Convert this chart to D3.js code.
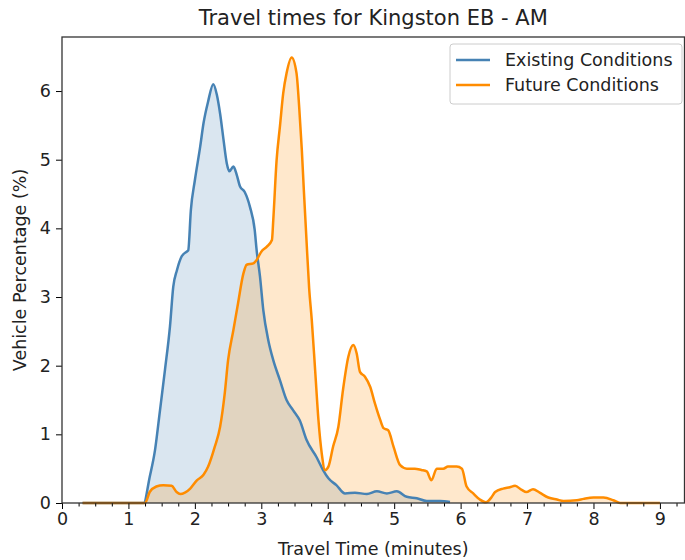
<!DOCTYPE html>
<html>
<head>
<meta charset="utf-8">
<script src="https://cdn.jsdelivr.net/npm/d3@7"></script>
<style>
  html, body { margin: 0; padding: 0; background: #fff; }
  svg { display: block; font-family: "DejaVu Sans", sans-serif; }
</style>
</head>
<body>
<svg id="chart" width="685" height="560"></svg>
<script>
// Travel time distributions (minutes vs. share of vehicles in %)
const existingTime = [0.31, 1.23, 1.32, 1.40, 1.475, 1.55, 1.625, 1.675, 1.73, 1.80, 1.875, 1.90, 1.94, 2.00, 2.08, 2.13, 2.20, 2.277, 2.33, 2.38, 2.43, 2.48, 2.52, 2.58, 2.63, 2.68, 2.75, 2.83, 2.90, 2.93, 2.98, 3.03, 3.105, 3.18, 3.28, 3.38, 3.48, 3.58, 3.68, 3.83, 3.93, 4.01, 4.13, 4.26, 4.41, 4.59, 4.74, 4.89, 5.04, 5.19, 5.34, 5.49, 5.69, 5.84];
const existingPct  = [0, 0, 0.38, 0.77, 1.35, 1.94, 2.57, 3.15, 3.39, 3.59, 3.66, 3.68, 4.27, 4.70, 5.19, 5.53, 5.85, 6.10, 5.95, 5.67, 5.30, 4.95, 4.83, 4.90, 4.78, 4.61, 4.53, 4.31, 3.98, 3.68, 3.30, 2.81, 2.37, 2.08, 1.79, 1.50, 1.35, 1.20, 0.92, 0.67, 0.48, 0.36, 0.26, 0.14, 0.15, 0.13, 0.17, 0.14, 0.17, 0.09, 0.07, 0.03, 0.03, 0.015];

const futureTime = [0.31, 1.25, 1.32, 1.42, 1.525, 1.65, 1.725, 1.78, 1.85, 1.93, 2.03, 2.13, 2.20, 2.30, 2.38, 2.45, 2.50, 2.58, 2.65, 2.73, 2.78, 2.88, 2.93, 3.00, 3.08, 3.16, 3.18, 3.23, 3.28, 3.33, 3.38, 3.457, 3.53, 3.57, 3.61, 3.64, 3.68, 3.72, 3.76, 3.81, 3.86, 3.91, 3.96, 4.01, 4.08, 4.16, 4.23, 4.31, 4.385, 4.435, 4.485, 4.56, 4.64, 4.71, 4.79, 4.84, 4.91, 4.99, 5.09, 5.19, 5.31, 5.41, 5.49, 5.56, 5.64, 5.74, 5.81, 5.94, 6.02, 6.09, 6.19, 6.29, 6.38, 6.47, 6.52, 6.64, 6.74, 6.82, 6.92, 6.99, 7.09, 7.19, 7.32, 7.45, 7.55, 7.75, 7.85, 8.00, 8.15, 8.30, 8.40, 9.00];
const futurePct  = [0, 0, 0.16, 0.24, 0.26, 0.25, 0.16, 0.13, 0.15, 0.21, 0.33, 0.41, 0.53, 0.82, 1.11, 1.60, 2.08, 2.52, 2.91, 3.34, 3.47, 3.49, 3.54, 3.66, 3.73, 3.83, 4.12, 4.99, 5.48, 5.97, 6.26, 6.49, 6.26, 5.77, 5.14, 4.56, 3.83, 3.13, 2.66, 1.94, 1.21, 0.72, 0.48, 0.53, 0.82, 1.11, 1.65, 2.13, 2.30, 2.18, 1.91, 1.84, 1.69, 1.45, 1.21, 1.09, 1.06, 0.82, 0.55, 0.50, 0.50, 0.48, 0.46, 0.33, 0.50, 0.50, 0.53, 0.53, 0.50, 0.24, 0.14, 0.05, 0.01, 0.09, 0.16, 0.21, 0.23, 0.25, 0.19, 0.16, 0.20, 0.15, 0.08, 0.05, 0.03, 0.04, 0.06, 0.08, 0.08, 0.04, 0, 0];

const seriesNames  = ["Existing Conditions", "Future Conditions"];
const seriesColors = ["#4682b4", "#ff8c00"];
const xTicks = [0, 1, 2, 3, 4, 5, 6, 7, 8, 9];
const yTicks = [0, 1, 2, 3, 4, 5, 6];

const titleText = "Travel times for Kingston EB - AM";
const xLabel = "Travel Time (minutes)";
const yLabel = "Vehicle Percentage (%)";

const svg = d3.select("#chart");
const plot = { left: 62, right: 684.5, top: 37, bottom: 503 };

const x = d3.scaleLinear().domain([0, 9.37]).range([plot.left, plot.right]);
const y = d3.scaleLinear().domain([0, 6.787]).range([plot.bottom, plot.top]);

const series = [
  { name: seriesNames[0], color: seriesColors[0], pts: existingTime.map((t, i) => [t, existingPct[i]]) },
  { name: seriesNames[1], color: seriesColors[1], pts: futureTime.map((t, i) => [t, futurePct[i]]) }
];

const curve = d3.curveMonotoneX;
const area = d3.area().x(d => x(d[0])).y0(y(0)).y1(d => y(d[1])).curve(curve);
const line = d3.line().x(d => x(d[0])).y(d => y(d[1])).curve(curve);

// Translucent fills first, outlines on top
const g = svg.append("g");
series.forEach(s => {
  g.append("path").attr("d", area(s.pts)).attr("fill", s.color).attr("fill-opacity", 0.2);
});
series.forEach(s => {
  g.append("path").attr("d", line(s.pts)).attr("fill", "none")
    .attr("stroke", s.color).attr("stroke-width", 2.5).attr("stroke-linejoin", "round");
});

// Axes
const xAxis = d3.axisBottom(x).tickValues(xTicks).tickSize(6).tickPadding(4).tickFormat(d3.format("d"));
const xMinor = d3.axisBottom(x).tickValues(d3.range(0.25, 9.3, 0.25).filter(v => Math.abs(v - Math.round(v)) > 1e-6))
  .tickSize(3.5).tickFormat("");
const yAxis = d3.axisLeft(y).tickValues(yTicks).tickSize(6).tickPadding(5).tickFormat(d3.format("d"));

const gx = svg.append("g").attr("transform", `translate(0,${plot.bottom})`).call(xAxis);
const gxm = svg.append("g").attr("transform", `translate(0,${plot.bottom})`).call(xMinor);
const gy = svg.append("g").attr("transform", `translate(${plot.left},0)`).call(yAxis);
[gx, gxm, gy].forEach(a => {
  a.select(".domain").remove();
  a.selectAll("line").attr("stroke", "#000").attr("stroke-width", 1);
  a.selectAll("text").attr("font-family", "DejaVu Sans").attr("font-size", 17.5).attr("fill", "#222");
});

// Frame
svg.append("rect")
  .attr("x", plot.left).attr("y", plot.top)
  .attr("width", plot.right - plot.left).attr("height", plot.bottom - plot.top)
  .attr("fill", "none").attr("stroke", "#333").attr("stroke-width", 1.3);

// Titles
svg.append("text").attr("x", (plot.left + plot.right) / 2).attr("y", 25)
  .attr("text-anchor", "middle").attr("font-size", 21).attr("fill", "#222").text(titleText);
svg.append("text").attr("x", (plot.left + plot.right) / 2).attr("y", 555)
  .attr("text-anchor", "middle").attr("font-size", 17.5).attr("fill", "#222").text(xLabel);
svg.append("text").attr("transform", `translate(26,${(plot.top + plot.bottom) / 2}) rotate(-90)`)
  .attr("text-anchor", "middle").attr("font-size", 17.5).attr("fill", "#222").text(yLabel);

// Legend
const lg = svg.append("g").attr("transform", "translate(450,44)");
lg.append("rect").attr("x", 0).attr("y", 0).attr("width", 232).attr("height", 60)
  .attr("rx", 3).attr("fill", "#fff").attr("fill-opacity", 0.8).attr("stroke", "#ccc");
series.forEach((s, i) => {
  const yy = 16 + i * 25;
  lg.append("line").attr("x1", 6).attr("x2", 40).attr("y1", yy).attr("y2", yy)
    .attr("stroke", s.color).attr("stroke-width", 2.5);
  lg.append("text").attr("x", 55).attr("y", yy + 6).attr("font-size", 17.5).attr("fill", "#222").text(s.name);
});
</script>
</body>
</html>
